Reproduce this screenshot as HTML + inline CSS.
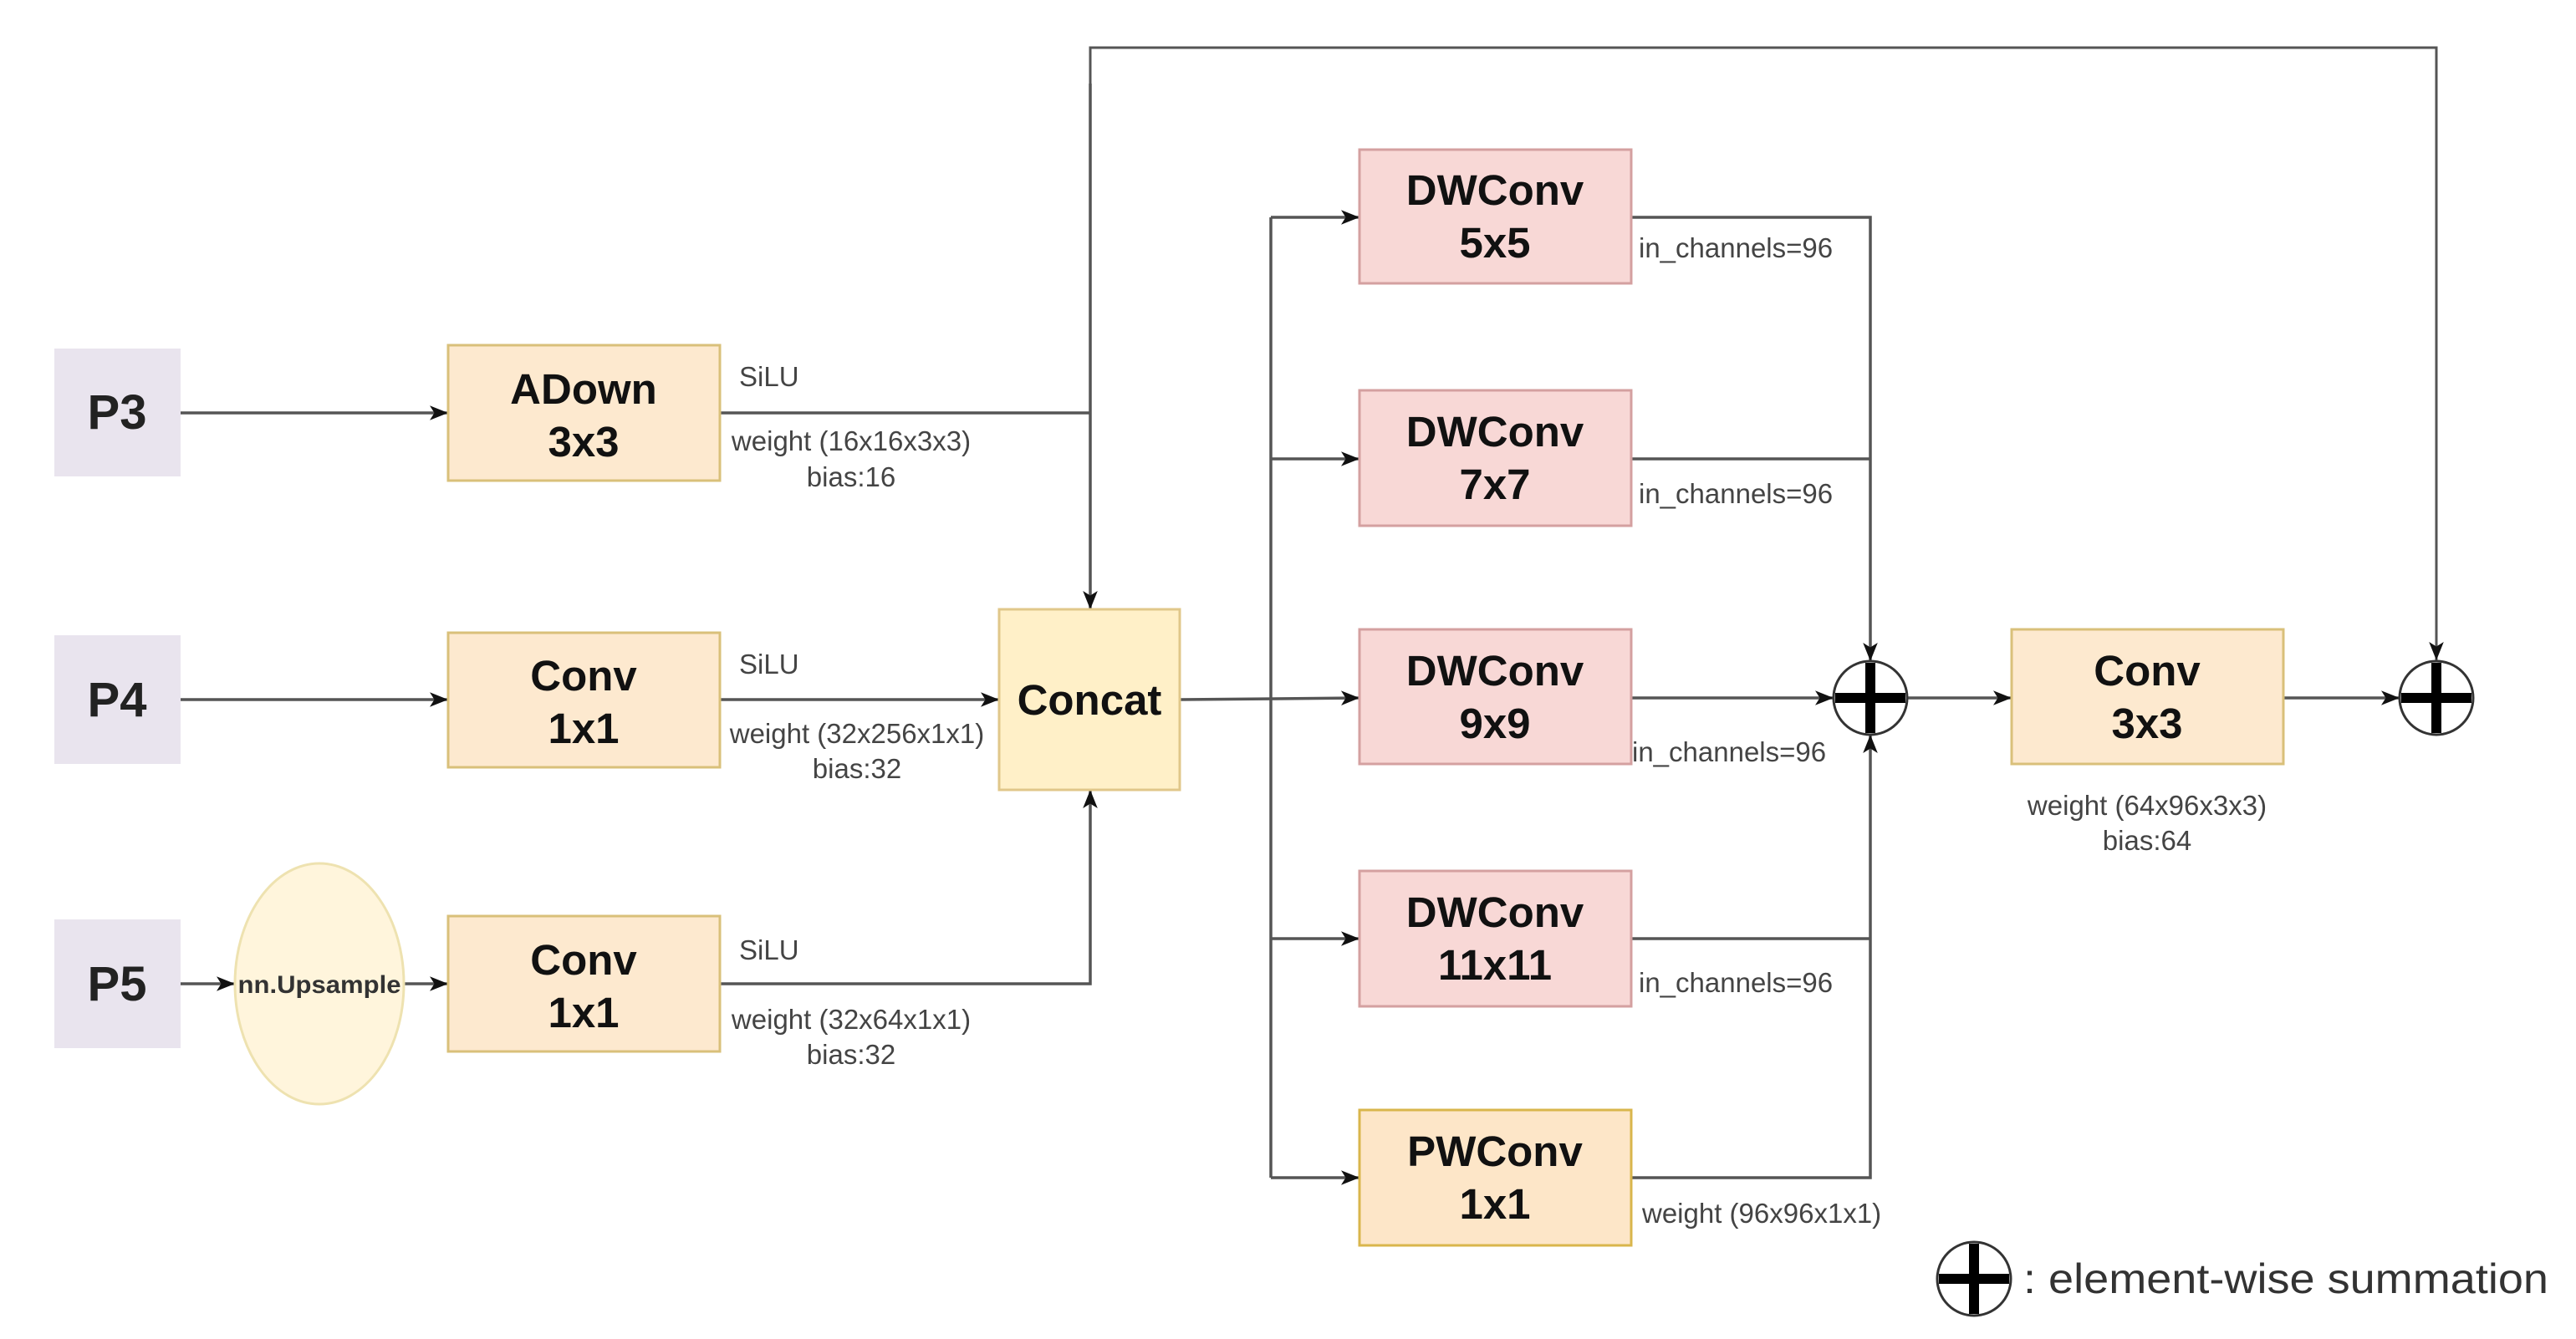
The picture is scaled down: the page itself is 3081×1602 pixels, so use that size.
<!DOCTYPE html>
<html><head><meta charset="utf-8"><style>
html,body{margin:0;padding:0;background:#fff;}
svg{display:block;}
text{font-family:"Liberation Sans",Arial,sans-serif;}
.t{font-weight:bold;font-size:51px;fill:#111;text-anchor:middle;}
.p{font-weight:bold;font-size:58px;fill:#222;text-anchor:middle;}
.s{font-size:33px;fill:#444;}
.sm{font-size:33px;fill:#444;text-anchor:middle;}
</style></head><body>
<svg width="3081" height="1602" viewBox="0 0 3081 1602" xmlns="http://www.w3.org/2000/svg">
<defs>
<marker id="a" viewBox="0 0 20 20" refX="20" refY="10" markerWidth="22" markerHeight="22" orient="auto" markerUnits="userSpaceOnUse">
<path d="M0,2 L20,10 L0,18 L5,10 z" fill="#111"/>
</marker>
</defs>
<g stroke="#555" stroke-width="3.5" fill="none">
<line x1="216" y1="494" x2="536" y2="494" marker-end="url(#a)"/>
<line x1="216" y1="837" x2="536" y2="837" marker-end="url(#a)"/>
<line x1="216" y1="1177" x2="281" y2="1177" marker-end="url(#a)"/>
<line x1="483" y1="1177" x2="536" y2="1177" marker-end="url(#a)"/>
<polyline points="861,494 1304,494"/>
<line x1="861" y1="837" x2="1195" y2="837" marker-end="url(#a)"/>
<polyline points="861,1177 1304,1177 1304,945" marker-end="url(#a)"/>
<polyline points="1304,200 1304,57 2914,57 2914,790" marker-end="url(#a)" stroke-width="3"/>
<line x1="1304" y1="100" x2="1304" y2="729" marker-end="url(#a)"/>
<line x1="1411" y1="837" x2="1626" y2="835" marker-end="url(#a)"/>
<polyline points="1520,1409 1520,260"/>
<line x1="1520" y1="260" x2="1626" y2="260" marker-end="url(#a)"/>
<line x1="1520" y1="549" x2="1626" y2="549" marker-end="url(#a)"/>
<line x1="1520" y1="1123" x2="1626" y2="1123" marker-end="url(#a)"/>
<line x1="1520" y1="1409" x2="1626" y2="1409" marker-end="url(#a)"/>
<polyline points="1951,260 2237,260 2237,791" marker-end="url(#a)"/>
<line x1="1951" y1="549" x2="2237" y2="549"/>
<line x1="1951" y1="835" x2="2193" y2="835" marker-end="url(#a)"/>
<polyline points="1951,1409 2237,1409 2237,879" marker-end="url(#a)"/>
<line x1="1951" y1="1123" x2="2237" y2="1123"/>
<line x1="2281" y1="835" x2="2406" y2="835" marker-end="url(#a)"/>
<line x1="2731" y1="835" x2="2870" y2="835" marker-end="url(#a)"/>
</g>
<rect x="65" y="417" width="151" height="153" fill="#e9e4ee"/>
<rect x="65" y="760" width="151" height="154" fill="#e9e4ee"/>
<rect x="65" y="1100" width="151" height="154" fill="#e9e4ee"/>
<text class="p" x="140" y="513">P3</text>
<text class="p" x="140" y="857">P4</text>
<text class="p" x="140" y="1197">P5</text>
<ellipse cx="382" cy="1177" rx="101" ry="144" fill="#fff5dc" stroke="#eee2b0" stroke-width="3"/>
<text x="382" y="1188" font-size="30" font-weight="bold" fill="#333" text-anchor="middle" textLength="195" lengthAdjust="spacingAndGlyphs">nn.Upsample</text>
<g fill="#fde9cf" stroke="#d9c07a" stroke-width="3">
<rect x="536" y="413" width="325" height="162"/>
<rect x="536" y="757" width="325" height="161"/>
<rect x="536" y="1096" width="325" height="162"/>
<rect x="2406" y="753" width="325" height="161"/>
</g>
<rect x="1195" y="729" width="216" height="216" fill="#fff0c8" stroke="#e0c78a" stroke-width="3"/>
<text class="t" x="698" y="483">ADown</text>
<text class="t" x="698" y="546">3x3</text>
<text class="t" x="698" y="826">Conv</text>
<text class="t" x="698" y="889">1x1</text>
<text class="t" x="698" y="1166">Conv</text>
<text class="t" x="698" y="1229">1x1</text>
<text class="t" x="1303" y="855">Concat</text>
<g fill="#f8d8d6" stroke="#d4a0a0" stroke-width="3">
<rect x="1626" y="179" width="325" height="160"/>
<rect x="1626" y="467" width="325" height="162"/>
<rect x="1626" y="753" width="325" height="161"/>
<rect x="1626" y="1042" width="325" height="162"/>
</g>
<rect x="1626" y="1328" width="325" height="162" fill="#fde6c8" stroke="#d9b64c" stroke-width="3"/>
<text class="t" x="1788" y="245">DWConv</text><text class="t" x="1788" y="308">5x5</text>
<text class="t" x="1788" y="534">DWConv</text><text class="t" x="1788" y="597">7x7</text>
<text class="t" x="1788" y="820">DWConv</text><text class="t" x="1788" y="883">9x9</text>
<text class="t" x="1788" y="1109">DWConv</text><text class="t" x="1788" y="1172">11x11</text>
<text class="t" x="1788" y="1395">PWConv</text><text class="t" x="1788" y="1458">1x1</text>
<text class="t" x="2568" y="820">Conv</text><text class="t" x="2568" y="883">3x3</text>
<text class="s" x="884" y="462">SiLU</text>
<text class="sm" x="1018" y="539">weight (16x16x3x3)</text>
<text class="sm" x="1018" y="582">bias:16</text>
<text class="s" x="884" y="806">SiLU</text>
<text class="sm" x="1025" y="889">weight (32x256x1x1)</text>
<text class="sm" x="1025" y="931">bias:32</text>
<text class="s" x="884" y="1148">SiLU</text>
<text class="sm" x="1018" y="1231">weight (32x64x1x1)</text>
<text class="sm" x="1018" y="1273">bias:32</text>
<text class="s" x="1960" y="308">in_channels=96</text>
<text class="s" x="1960" y="602">in_channels=96</text>
<text class="s" x="1952" y="911">in_channels=96</text>
<text class="s" x="1960" y="1187">in_channels=96</text>
<text class="s" x="1964" y="1463">weight (96x96x1x1)</text>
<text class="sm" x="2568" y="975">weight (64x96x3x3)</text>
<text class="sm" x="2568" y="1017">bias:64</text>
<g>
<circle cx="2237" cy="835" r="44" fill="#fff" stroke="#333" stroke-width="3"/>
<rect x="2231" y="793" width="12" height="84" fill="#000"/><rect x="2195" y="829" width="84" height="12" fill="#000"/>
<circle cx="2914" cy="835" r="44" fill="#fff" stroke="#333" stroke-width="3"/>
<rect x="2908" y="793" width="12" height="84" fill="#000"/><rect x="2872" y="829" width="84" height="12" fill="#000"/>
<circle cx="2361" cy="1530" r="44" fill="#fff" stroke="#333" stroke-width="3"/>
<rect x="2355" y="1488" width="12" height="84" fill="#000"/><rect x="2319" y="1524" width="84" height="12" fill="#000"/>
</g>
<text x="2420" y="1547" font-size="50" fill="#333" textLength="628" lengthAdjust="spacingAndGlyphs">: element-wise summation</text>
</svg>
</body></html>
